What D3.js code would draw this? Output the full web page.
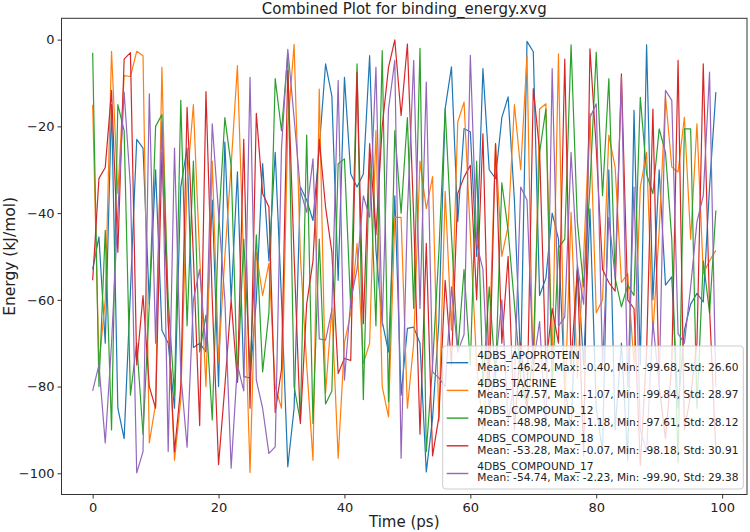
<!DOCTYPE html>
<html><head><meta charset="utf-8">
<script src="https://cdn.jsdelivr.net/npm/d3@7"></script>
<style>body{margin:0;background:#fff}svg{display:block}text{font-family:"DejaVu Sans",sans-serif}</style>
</head><body>
<svg id="c" width="750" height="532"></svg>
<script>
const seriesNames = ["4DBS_APOPROTEIN","4DBS_TACRINE","4DBS_COMPOUND_12","4DBS_COMPOUND_18","4DBS_COMPOUND_17"];
const seriesStats = [
  "Mean: -46.24, Max: -0.40, Min: -99.68, Std: 26.60",
  "Mean: -47.57, Max: -1.07, Min: -99.84, Std: 28.97",
  "Mean: -48.98, Max: -1.18, Min: -97.61, Std: 28.12",
  "Mean: -53.28, Max: -0.07, Min: -98.18, Std: 30.91",
  "Mean: -54.74, Max: -2.23, Min: -99.90, Std: 29.38"];
const colors = ["#1f77b4","#ff7f0e","#2ca02c","#d62728","#9467bd"];
const xTicks = [0,20,40,60,80,100];
const yTicks = [0,-20,-40,-60,-80,-100];

const apoprotein = [-53,-45.5,-70,-15,-85,-92,-58,-23,-25,-61,-30,-67,-70,-85,-34,-25,-71,-70,-72,-37,
 -80,-23.6,-60,-30.5,-77.7,-78,-60,-28.6,-51,-26,-60,-98.5,-85,-34,-37,-41.7,-25,-5.6,-13,-55.5,
 -8.7,-31,-34,-31,-3.7,-48.5,-65,-72,-36,-82,-66.6,-66.3,-70,-99.68,-87.3,-65,-15.9,-6.3,-42,-20.5,
 -21.3,-50,-6.7,-30,-32,-18,-13.2,-37,-75,-0.4,-2.8,-59,-55,-40,-46,-80,-90,-52,-75,-39,
 -85,-95,-30,-90,-70,-97,-16.3,-75,-1.2,-60,-30,-56.6,-54.7,-85,-67,-61,-58.5,-60.5,-34,-12.1];
const tacrine = [-15,-75,-60,-2.7,-35.5,-8.3,-8.5,-2.7,-3.7,-93,-84,-6.4,-65,-97,-83,-33,-15,-50,-80,-28,
 -74,-50,-29,-6,-52,-99.84,-49,-59,-51.6,-80,-85,-20,-1.07,-50,-75,-97,-11.4,-81.5,-62,-96.5,
 -70,-63,-47,-74.7,-70,-21,-80,-87,-41,-41,-85,-70,-28,-39,-31.6,-88,-35,-67,-19,-14.4,
 -45,-75,-90,-70,-24,-50,-43,-15,-30,-3.7,-80,-16,-14.8,-75,-3.3,-85,-39.8,-78,-50,-17,
 -63,-60,-22,-29.4,-56,-54,-75,-34,-26,-67.8,-44,-13,-29.4,-30.5,-17.9,-46,-19.4,-54,-51,-48.6];
const compound12 = [-3,-80,-44,-90,-15,-21,-82,-70,-91,-61,-20,-17.3,-60,-82,-14,-66,-28,-72,-63.5,-87.7,
 -43,-18,-29,-79,-46,-75.8,-45,-76.6,-63,-9,-21,-3.3,-80,-88,-22,-88.5,-46,-84,-81,-28.6,
 -27.5,-62,-5.6,-83,-27,-66,-2.5,-83.5,-21,-40,-18,-62,-2,-95,-75,-49,-16,-45,-72,-53,
 -75,-28,-80,-57,-78,-33,-44,-61,-78,-85,-72,-26,-16,-80,-48,-46,-1.18,-42,-57,-34,
 -2.9,-36,-9,-55,-61.6,-56.6,-59,-13.3,-31,-35.5,-20.6,-26,-46,-97.61,-20.6,-20.6,-85,-51,-63,-39.4];
const compound18 = [-55.5,-32,-29.5,-11.7,-49,-4.5,-3,-75,-59,-80,-85,-26,-65,-95,-80,-15.6,-50,-89,-12,-60,
 -98,-80,-60,-79,-23,-85,-17,-35.5,-38.6,-86,-76,-7,-50,-88.5,-61,-51,-23,-38.6,-49,-77,
 -73.5,-74,-7.5,-65.5,-24,-45,-20,-6.4,-0.07,-17.5,-1,-41,-91,-47,-96,-87,-55.5,-75,-35.5,-31.7,
 -29,-60,-21.7,-80,-24,-70,-50,-90,-70,-85,-11.3,-25.5,-75,-62,-70,-4.5,-75,-53,-96,-2.1,
 -25,-53,-56,-58,-7.9,-60,-62,-98.18,-72,-16,-80,-92,-75,-4.8,-90,-82,-70,-5.6,-62,-95];
const compound17 = [-81,-75,-93,-70,-40,-12.1,-34,-99.9,-95,-12.5,-70,-19,-95,-25,-77,-94,-60,-53,-71.6,-19.4,
 -40,-60,-98.8,-75,-81,-8.7,-78.5,-85,-95.4,-93.9,-25,-2.23,-18,-34.8,-39.8,-27.5,-69,-69.3,-62.4,-9.4,
 -78.5,-60,-53,-36,-41,-6.4,-66,-16,-4.8,-96.5,-40,-4.8,-62,-9.8,-76.6,-78,-80,-57,-72,-68,
 -3.6,-47,-53,-85,-75,-60,-88,-79,-34,-37,-75,-65,-90,-6.7,-66,-64,-26,-52,-61,-18,
 -14.8,-75,-41,-54.7,-8.7,-80,-34,-90,-95,-65,-80,-11.7,-14,-67.8,-70,-57,-42,-36,-7.5,-80];
const seriesValues = [apoprotein, tacrine, compound12, compound18, compound17];

const svg = d3.select("#c");
const L = 61.5, R = 747, T = 18.3, B = 494.5;
const x = d3.scaleLinear().domain([-4.95, 103.95]).range([L, R]);
const y = d3.scaleLinear().domain([-104.89, 4.92]).range([B, T]);

const fmt = d => (d < 0 ? "\u2212" + Math.abs(d) : String(d));

const line = d3.line().x((d,i)=>x(i)).y(d=>y(d));
seriesValues.forEach((vals, k) => {
  svg.append("path").datum(vals).attr("d", line)
    .attr("fill","none").attr("stroke",colors[k]).attr("stroke-width",1.2)
    .attr("stroke-linejoin","round");
});

const xa = svg.append("g").attr("transform",`translate(0,${B})`)
  .call(d3.axisBottom(x).tickValues(xTicks).tickSize(4).tickPadding(4).tickFormat(fmt));
const ya = svg.append("g").attr("transform",`translate(${L},0)`)
  .call(d3.axisLeft(y).tickValues(yTicks).tickSize(4).tickPadding(3).tickFormat(fmt));
[xa, ya].forEach(a => {
  a.select(".domain").remove();
  a.selectAll("text").attr("font-size", 13).attr("fill","#222").style("font-family","DejaVu Sans");
  a.selectAll("line").attr("stroke","#333");
});

svg.append("rect").attr("x",L).attr("y",T).attr("width",R-L).attr("height",B-T)
  .attr("fill","none").attr("stroke","#333").attr("stroke-width",1);

svg.append("text").attr("x",(L+R)/2).attr("y",14).attr("text-anchor","middle")
  .attr("font-size",15).attr("fill","#222").text("Combined Plot for binding_energy.xvg");
svg.append("text").attr("x",(L+R)/2).attr("y",527).attr("text-anchor","middle")
  .attr("font-size",15).attr("fill","#222").text("Time (ps)");
svg.append("text").attr("transform",`translate(15,${(T+B)/2}) rotate(-90)`).attr("text-anchor","middle")
  .attr("font-size",15.5).attr("fill","#222").text("Energy (kJ/mol)");

// legend
const lg = svg.append("g");
lg.append("rect").attr("x",442.7).attr("y",346).attr("width",300.6).attr("height",143)
  .attr("rx",3).attr("fill","#fff").attr("fill-opacity",0.8).attr("stroke","#ccc");
seriesNames.forEach((n,k) => {
  const y0 = 355 + k*27.7;
  lg.append("line").attr("x1",446.7).attr("x2",468.3).attr("y1",y0+7.7).attr("y2",y0+7.7)
    .attr("stroke",colors[k]).attr("stroke-width",1.4);
  lg.append("text").attr("x",477.3).attr("y",y0+3.8).attr("font-size",10.6).attr("fill","#222").text(n);
  lg.append("text").attr("x",477.3).attr("y",y0+15.6).attr("font-size",10.6).attr("fill","#222").text(seriesStats[k]);
});
</script>
</body></html>
